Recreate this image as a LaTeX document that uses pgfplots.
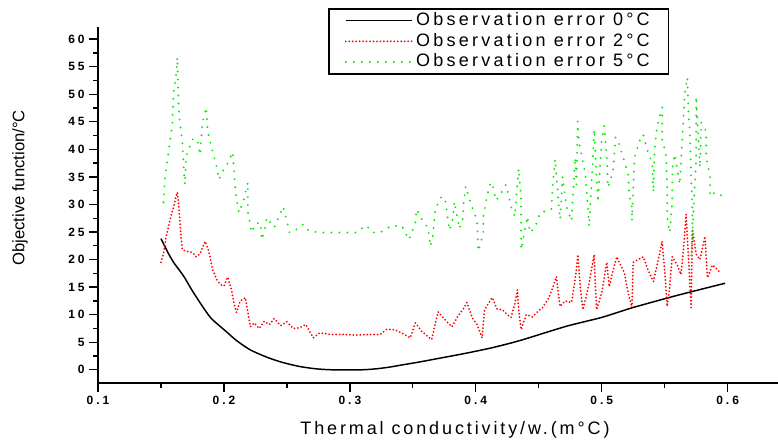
\documentclass[border=0pt]{standalone}
\usepackage{fontspec}
\setmainfont{Liberation Sans}
\usepackage{pgfplots}
\pgfplotsset{compat=1.18}
\definecolor{grn}{RGB}{0,235,0}
\begin{document}
\begin{tikzpicture}
\begin{axis}[name=ax, scale only axis, width=510pt, height=267pt,
  xmin=0.1, xmax=0.64, ymin=-2.4, ymax=62.2, clip=false,
  axis line style={draw=none},
  xtick={0.1,0.2,0.3,0.4,0.5,0.6}, minor xtick={0.15,0.25,0.35,0.45,0.55},
  ytick={0,5,...,60}, minor ytick={2.5,7.5,...,57.5},
  xtick pos=bottom, ytick pos=left,
  tick align=outside, major tick length=6.5pt, minor tick length=3.5pt,
  tick style={draw=black, line width=1pt, solid},
  xticklabel style={/pgf/number format/fixed, /pgf/number format/precision=1,
    /pgf/number format/assume math mode=true,
    font=\fontsize{9}{10}\selectfont\bfseries\addfontfeatures{LetterSpace=25}},
  yticklabel style={/pgf/number format/assume math mode=true,
    font=\fontsize{9}{10}\selectfont\bfseries\addfontfeatures{LetterSpace=25}},
  xlabel={Thermal conductivity/w.(m°C)},
  xlabel style={font=\fontsize{13.5}{15}\selectfont\addfontfeatures{LetterSpace=16}, at={(axis description cs:0.525,-0.131)}, anchor=center},
  ylabel={Objective function/°C},
  ylabel style={font=\fontsize{12.5}{14}\selectfont, at={(axis description cs:-0.1147,0.548)}, anchor=center},
  legend style={at={(axis description cs:0.338,1.053)}, anchor=north west, draw=black, line width=1.3pt,
    font=\fontsize{13.5}{16}\selectfont\addfontfeatures{LetterSpace=18}, inner xsep=12pt, inner ysep=1pt, row sep=0pt,
    nodes={inner ysep=1pt, text height=10.5pt, text depth=3pt},
    cells={anchor=west}},
  legend image code/.code={\draw[#1] (0pt,0pt) -- (50pt,0pt);},
]
\addplot[black, line width=1.1pt, smooth, tension=0.4] coordinates {
(0.150,23.8) (0.155,21.5) (0.160,19.5) (0.168,17.0) (0.175,14.3) (0.183,11.5) (0.190,9.3)
(0.202,6.9) (0.210,5.3) (0.221,3.6) (0.235,2.2) (0.247,1.3) (0.260,0.6) (0.272,0.2) (0.285,0)
(0.310,0) (0.322,0.2) (0.332,0.5) (0.342,0.9) (0.355,1.4) (0.369,2.0) (0.390,2.9) (0.413,4.0) (0.435,5.3) (0.472,7.9)
(0.500,9.5) (0.525,11.3) (0.560,13.5) (0.598,15.7)
};
\addlegendentry{Observation error 0°C}
\addplot[red, line width=1.5pt, line cap=round, dash pattern=on 0pt off 2.6pt] coordinates {
(0.150,19.5) (0.152,21) (0.154,24) (0.156,26) (0.158,28) (0.160,29.5) (0.162,31.5) (0.163,32.2)
(0.164,30) (0.165,27) (0.166,24) (0.167,21.8) (0.170,21.5) (0.175,21.3) (0.178,20.5) (0.181,21)
(0.185,23.3) (0.188,21.5) (0.191,18.2) (0.194,16.5) (0.197,15.5) (0.200,15.2) (0.203,16.8)
(0.206,14.5) (0.208,12) (0.210,10.4) (0.213,12.5) (0.217,13.1) (0.219,10.5) (0.221,7.8)
(0.224,8.5) (0.228,7.5) (0.232,8.8) (0.236,8.2) (0.240,9.3) (0.245,8) (0.250,8.7) (0.255,7.5)
(0.260,7.6) (0.265,8.2) (0.271,5.8) (0.276,6.7) (0.285,6.4) (0.295,6.4) (0.305,6.3) (0.315,6.4)
(0.324,6.4) (0.329,7.3) (0.335,7.3) (0.340,6.8) (0.348,5.8) (0.352,8.5) (0.357,7) (0.362,6)
(0.365,5.5) (0.370,10.5) (0.374,9.5) (0.378,8.5) (0.381,7.8) (0.386,9.8) (0.390,11) (0.393,12.2)
(0.397,9.5) (0.401,8.2) (0.405,5.8) (0.407,10.9) (0.410,12) (0.413,13.1) (0.417,11) (0.421,10.9)
(0.425,10) (0.428,9.5) (0.431,12) (0.433,14.5) (0.434,11) (0.436,7.3) (0.440,10) (0.445,9.6)
(0.449,10.5) (0.453,11.3) (0.458,13) (0.462,15.5) (0.464,16.9) (0.466,13) (0.467,11.5)
(0.471,12.5) (0.476,12.2) (0.478,15) (0.480,18.5) (0.481,20.9) (0.483,15) (0.485,10.9)
(0.488,13.5) (0.491,17) (0.494,20.9) (0.495,15) (0.496,10.9) (0.500,14) (0.504,19.5) (0.506,15.1)
(0.509,18) (0.512,20.5) (0.515,19) (0.518,17.6) (0.521,14) (0.524,11.3) (0.525,19.5) (0.529,20)
(0.533,20.5) (0.537,18) (0.541,16) (0.545,20) (0.548,23.3) (0.550,18) (0.552,11.5) (0.554,15)
(0.556,20.5) (0.560,19) (0.563,17.3) (0.565,22) (0.567,28.2) (0.569,20) (0.571,11.3) (0.572,25.5)
(0.575,21) (0.578,20) (0.582,24.2) (0.584,16.7) (0.588,19) (0.592,18.2) (0.594,17.6)
};
\addlegendentry{Observation error 2°C}
\addplot[grn, line width=1.6pt, line cap=round, dash pattern=on 0pt off 6pt] coordinates {
(0.152,30.4) (0.153,34.5) (0.156,39.5) (0.159,44.5) (0.160,50.3) (0.162,53.5) (0.163,56.7)
(0.164,47.6) (0.165,45) (0.167,41.3) (0.168,37) (0.169,33.6) (0.170,38.7) (0.175,41.8)
(0.179,41.8) (0.181,39) (0.183,44.9) (0.186,47.6) (0.187,43.3) (0.191,39.6) (0.194,37)
(0.196,34.5) (0.199,36) (0.202,37) (0.207,39.5) (0.209,33.1) (0.210,30.9) (0.212,28.5)
(0.216,31) (0.219,34) (0.219,28.7) (0.222,24.9) (0.225,26.5) (0.229,26.7) (0.230,23.6)
(0.232,25) (0.234,27.6) (0.240,25.8) (0.247,29.6) (0.250,27) (0.252,24.9) (0.258,25.5)
(0.263,26.4) (0.268,25.1) (0.279,24.9) (0.290,24.9) (0.298,24.9) (0.305,24.9) (0.313,26.2)
(0.318,24.9) (0.324,24.9) (0.332,26) (0.341,26.2) (0.347,23.6) (0.352,26.7) (0.353,29.1)
(0.358,27) (0.362,25.8) (0.364,22.4) (0.366,24.5) (0.368,29.3) (0.373,31.5) (0.376,30.5)
(0.379,25.3) (0.382,27.6) (0.383,30.5) (0.387,25.6) (0.390,27.6) (0.390,29.6) (0.392,33.3)
(0.396,30.2) (0.401,27.1) (0.402,21.5) (0.404,23) (0.406,25.1) (0.406,27.6) (0.408,30.5)
(0.411,33.5) (0.413,34) (0.416,30.7) (0.420,32) (0.424,33.6) (0.428,29.6) (0.431,27.8)
(0.434,36.5) (0.436,31.3) (0.436,21.8) (0.441,27.8) (0.443,24.9) (0.447,25.8) (0.451,28.5)
(0.460,29.1) (0.461,33.3) (0.463,38.2) (0.466,29.6) (0.467,27.3) (0.469,35) (0.472,29.6)
(0.476,27) (0.479,38.5) (0.480,33.6) (0.481,45.1) (0.482,41.3) (0.487,35.5) (0.489,29.6)
(0.490,26) (0.493,38.2) (0.494,43.6) (0.497,30.4) (0.500,41.8) (0.502,44.2) (0.504,38.7)
(0.505,33.1) (0.509,36) (0.511,42.2) (0.514,40.9) (0.521,35.5) (0.522,31.5) (0.524,29.5)
(0.524,27) (0.526,38.4) (0.530,41.5) (0.533,42.7) (0.536,40) (0.540,37.6) (0.541,32.2)
(0.542,40) (0.544,44.2) (0.548,47.6) (0.548,41.8) (0.551,39.1) (0.552,33.3) (0.552,27.6)
(0.554,24.9) (0.556,30.5) (0.556,36.4) (0.558,39.1) (0.562,33.6) (0.564,41.8) (0.566,50.3)
(0.568,53) (0.569,46) (0.570,43.1) (0.571,35.1) (0.572,28.7) (0.572,23.1) (0.571,20.4)
(0.575,38.2) (0.575,49.6) (0.578,36.7) (0.579,44.9) (0.583,43.3) (0.583,38.5) (0.586,35.1)
(0.586,31.5) (0.590,32.2) (0.596,31.5)
};
\addlegendentry{Observation error 5°C}
\draw[line width=1.3pt, black, solid, line cap=butt] (rel axis cs:0,1) -- (rel axis cs:0,0) -- (rel axis cs:1,0);
\end{axis}
\pgfresetboundingbox
\path (ax.south west) ++(-73.5pt,-43.5pt) rectangle ++(583.5pt,330.75pt);
\end{tikzpicture}
\end{document}
